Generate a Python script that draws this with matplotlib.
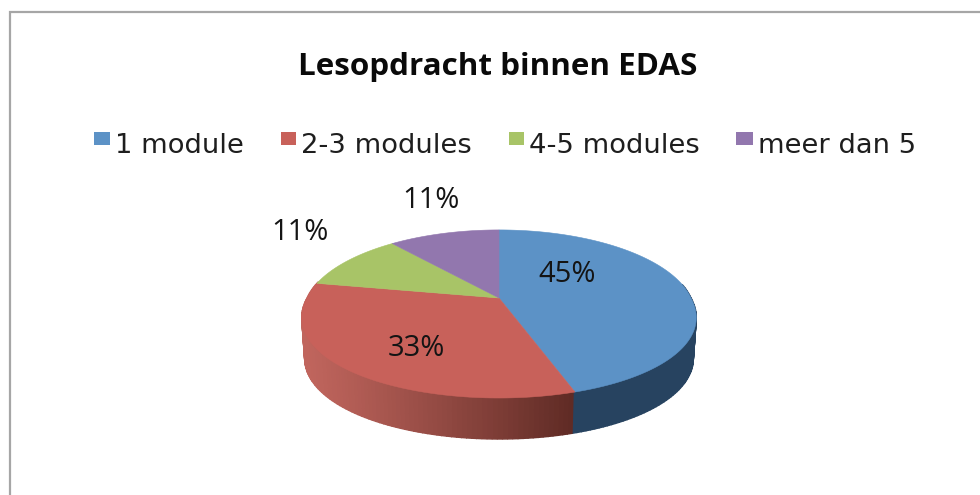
import numpy as np
import matplotlib
matplotlib.use("Agg")
import matplotlib.pyplot as plt
from matplotlib.patches import Rectangle, Polygon
from matplotlib.colors import to_rgb

title = "Lesopdracht binnen EDAS"
categories = ["1 module", "2-3 modules", "4-5 modules", "meer dan 5"]
values = [45, 33, 11, 11]
pct_labels = ["45%", "33%", "11%", "11%"]
colors = ["#5C92C6", "#C8615A", "#A8C467", "#9277AE"]

W, H = 980, 495
fig = plt.figure(figsize=(W / 100, H / 100), dpi=100, facecolor="white")
ax = fig.add_axes([0, 0, 1, 1])
ax.set_xlim(0, W)
ax.set_ylim(H, 0)
ax.axis("off")

# chart frame (open at right and bottom, the crop cuts it)
ax.plot([10, 10, W], [H, 12, 12], color="#A6A6A6", lw=1.6, solid_joinstyle="miter")

# perspective pie geometry
CX, CY, R, RY, K, K_NEAR, DEPTH, SHRINK = 499, 298, 192, 81, 0.19, 0.23, 41, 0.985

def project(t):
    u = np.sin(t)
    v = -np.cos(t)
    d = 1 - K * v
    dx = 1 - np.where(v > 0, K_NEAR, K) * v
    return CX + R * u / dx, CY + RY * v / d

def project_low(t):
    x, y = project(t)
    return CX + (x - CX) * SHRINK, y + DEPTH

edges = np.cumsum([0] + values) / sum(values) * 2 * np.pi

def mix(a, b, f):
    a, b = np.array(to_rgb(a)), np.array(to_rgb(b))
    return tuple(a + (b - a) * f)

# rim: quads along the visible side
rim_start, rim_end = np.radians(80), np.radians(282)
ts = np.linspace(rim_start, rim_end, 170)
for a, b in zip(ts[:-1], ts[1:]):
    mid = (a + b) / 2
    if mid < edges[1]:
        c = "#274360"
    else:
        xm = project(mid)[0]
        f = np.clip((xm - 305) / (575 - 305), 0, 1)
        c = mix("#C0655D", "#5E2A24", f ** 1.1)
    x1, y1 = project(a)
    x2, y2 = project(b)
    x3, y3 = project_low(b)
    x4, y4 = project_low(a)
    ax.add_patch(Polygon([(x1, y1), (x2, y2), (x3, y3), (x4, y4)],
                         facecolor=c, edgecolor=c, lw=1.0, zorder=2))

# top face
for i, c in enumerate(colors):
    t = np.linspace(edges[i], edges[i + 1], 120)
    x, y = project(t)
    pts = np.column_stack([np.r_[CX, x], np.r_[CY, y]])
    ax.add_patch(Polygon(pts, facecolor=c, edgecolor=c, lw=0.4, zorder=3))

# text
ax.text(498, 67, title, ha="center", va="center", fontsize=22.6,
        fontweight="bold", family="Open Sans", color="#0A0A0A")

legend_box_x = [94, 281, 509, 736]
legend_box_w = [16, 15, 15, 17]
legend_text_x = [115, 301, 529, 758]
for bx, bw, tx, c, name in zip(legend_box_x, legend_box_w, legend_text_x, colors, categories):
    ax.add_patch(Rectangle((bx, 132), bw, 13, facecolor=c, edgecolor="none", zorder=3))
    ax.text(tx, 146, name, ha="left", va="center", fontsize=19.7,
            family="DejaVu Sans", color="#1E1E1E")

label_pos = [(567, 274), (416, 348), (300, 232), (431, 200)]
for (lx, ly), s in zip(label_pos, pct_labels):
    ax.text(lx, ly, s, ha="center", va="center", fontsize=21,
            family="Open Sans", color="#141414", zorder=5)

fig.savefig("out.png", dpi=100, facecolor="white")
